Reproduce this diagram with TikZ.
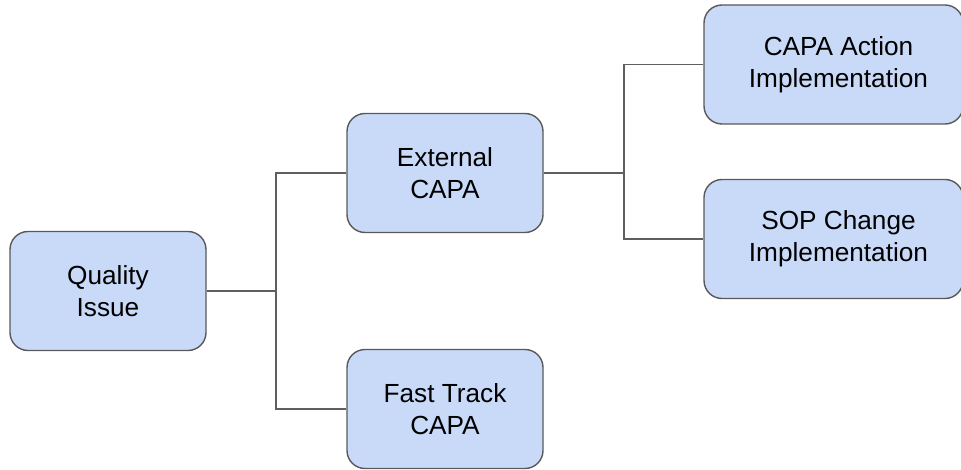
\documentclass[tikz,border=0pt]{standalone}
\usepackage{fontspec}
\setmainfont{Liberation Sans}
\definecolor{boxfill}{HTML}{C9DAF8}
\definecolor{boxline}{HTML}{595959}
\definecolor{wire}{HTML}{5F5F5F}
\newcommand{\nudge}{\hspace*{10pt}}
\begin{document}
\begin{tikzpicture}[x=1pt,y=-1pt,
  box/.style={draw=boxline, fill=boxfill, line width=1.4pt, rounded corners=18pt,
    minimum width=#1, minimum height=119pt, inner sep=0pt, align=center,
    font=\fontsize{26.2}{32}\selectfont},
  box/.default=196pt,
  wire/.style={draw=wire, line width=1.4pt}]
\useasboundingbox (0,0) rectangle (961,470);
\node[box] (qi) at (108,291) {Quality\\Issue};
\node[box] (ext) at (445,173) {External\\CAPA};
\node[box] (fast) at (445,409) {Fast Track\\CAPA};
\node[box=259pt] (act) at (833.5,64.5) {\nudge CAPA Action\\\nudge Implementation};
\node[box=259pt] (sop) at (833.5,239) {\nudge SOP Change\\\nudge Implementation};
% branching connectors
\coordinate (j1) at (276,291);
\coordinate (j2) at (624,173);
\draw[wire] (qi.east) -- (j1);
\draw[wire] (ext.west) -| (j1) |- (fast.west);
\draw[wire] (ext.east) -- (j2);
\draw[wire] (act.west) -| (j2) |- (sop.west);
\end{tikzpicture}
\end{document}
